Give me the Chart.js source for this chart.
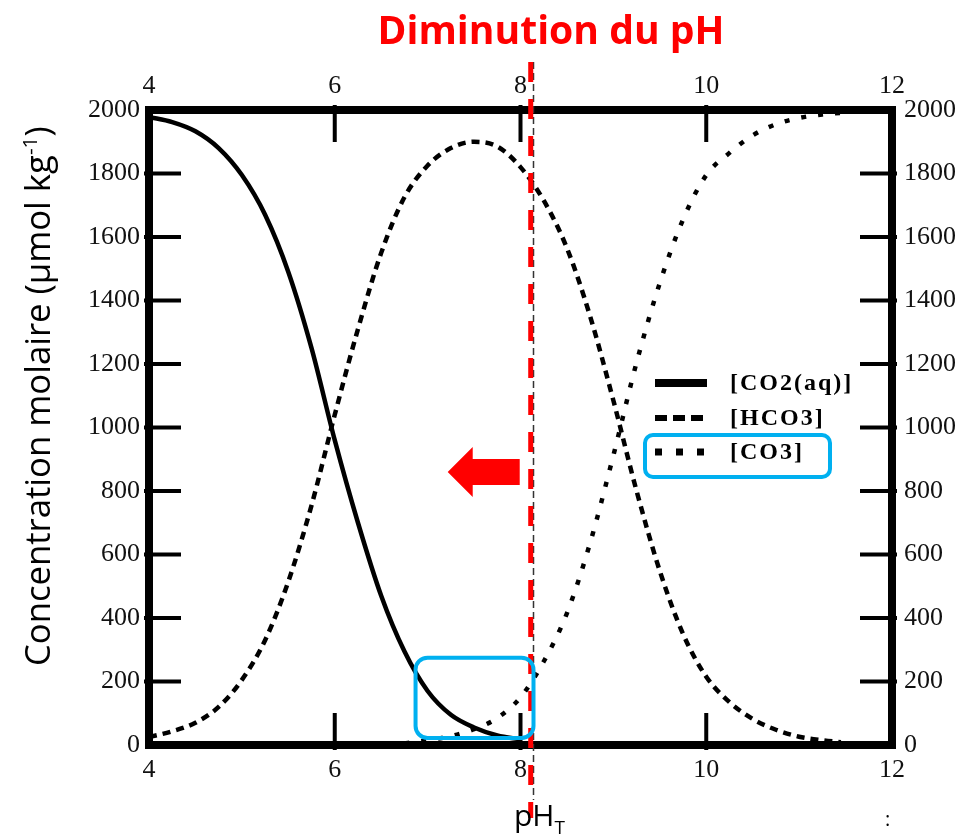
<!DOCTYPE html>
<html>
<head>
<meta charset="utf-8">
<script src="https://cdn.jsdelivr.net/npm/chart.js@4/dist/chart.umd.min.js"></script>
<style>
  html, body { margin: 0; padding: 0; background: #fff; }
  #wrap { width: 967px; height: 835px; }
</style>
</head>
<body>
<div id="wrap"><canvas id="myChart" width="967" height="835"></canvas></div>
<script>
// valeurs (µmol/kg)
const phValues = [4, 4.25, 4.5, 4.75, 5, 5.25, 5.5, 5.75, 6, 6.25, 6.5, 6.75, 7, 7.25, 7.5, 7.75,
  8, 8.25, 8.5, 8.75, 9, 9.25, 9.5, 9.75, 10, 10.25, 10.5, 10.75, 11, 11.25, 11.45];
const co2Values = [1978, 1962, 1933, 1880, 1795, 1670, 1490, 1250, 960, 700, 470, 295, 170, 95, 55, 30,
  18, null, null, null, null, null, null, null, null, null, null, null, null, null, null];
const hco3Values = [25, 43, 70, 120, 205, 330, 515, 755, 1040, 1310, 1550, 1725, 1825, 1880, 1900, 1885,
  1820, 1715, 1565, 1350, 1085, 800, 548, 350, 215, 135, 82, 48, 26, 15, 9];
const co3Values = [null, null, null, null, null, null, null, null, null, null, null, 5, 15, 28, 50, 85,
  150, 263, 415, 637, 912, 1205, 1455, 1655, 1795, 1865, 1920, 1955, 1975, 1986, 1991];
const seriesLabels = ["[CO2(aq)]", "[HCO3]", "[CO3]"];
const xTickValues = [4, 6, 8, 10, 12];
const yTickValues = [0, 200, 400, 600, 800, 1000, 1200, 1400, 1600, 1800, 2000];
const phNow = 8.11;      // ligne rouge
const phNowThin = 8.14;  // ligne noire fine

function toPoints(values) {
  return phValues.map((ph, i) => ({ x: ph, y: values[i] }));
}

const tickFont = { family: "Liberation Serif", size: 26 };

function xAxis(position, height, padding) {
  return {
    type: "linear", position: position, min: 4, max: 12,
    afterBuildTicks: (s) => { s.ticks = xTickValues.map((v) => ({ value: v })); },
    afterFit: (s) => { s.height = height; },
    ticks: { color: "#111", font: tickFont, padding: padding, maxRotation: 0, callback: (v) => String(v) },
    grid: { display: false, drawTicks: false },
    border: { display: false }
  };
}
function yAxis(position, width, padding) {
  return {
    type: "linear", position: position, min: 0, max: 2000,
    afterBuildTicks: (s) => { s.ticks = yTickValues.map((v) => ({ value: v })); },
    afterFit: (s) => { s.width = width; },
    ticks: { color: "#111", font: tickFont, padding: padding, callback: (v) => String(v) },
    grid: { display: false, drawTicks: false },
    border: { display: false }
  };
}

function fitSize(ctx, text, font, width) {
  ctx.font = font.replace("SIZE", "100px");
  return 100 * width / ctx.measureText(text).width;
}

const notesPlugin = {
  id: "notes",
  afterDatasetsDraw(chart) {
    const { ctx, chartArea: a, scales } = chart;
    const xs = scales.x, ys = scales.y;
    ctx.save();

    // graduations vers l'interieur
    ctx.strokeStyle = "#000";
    ctx.lineWidth = 4;
    ctx.beginPath();
    yTickValues.slice(1, -1).forEach((v) => {
      const py = ys.getPixelForValue(v);
      ctx.moveTo(a.left - 5, py); ctx.lineTo(a.left + 32, py);
      ctx.moveTo(a.right - 32, py); ctx.lineTo(a.right + 5, py);
    });
    xTickValues.slice(1, -1).forEach((v) => {
      const px = xs.getPixelForValue(v);
      ctx.moveTo(px, a.top - 5); ctx.lineTo(px, a.top + 32);
      ctx.moveTo(px, a.bottom - 32); ctx.lineTo(px, a.bottom + 5);
    });
    ctx.stroke();

    // cadre
    ctx.lineWidth = 8;
    ctx.strokeRect(a.left, a.top, a.right - a.left, a.bottom - a.top);

    // lignes verticales pH actuel
    const bx = xs.getPixelForValue(phNowThin);
    ctx.strokeStyle = "#333";
    ctx.lineWidth = 1.5;
    ctx.setLineDash([7, 4]);
    ctx.beginPath(); ctx.moveTo(bx, 62); ctx.lineTo(bx, 800); ctx.stroke();
    const rx = xs.getPixelForValue(phNow);
    ctx.strokeStyle = "#ff0000";
    ctx.lineWidth = 5;
    ctx.setLineDash([20, 17]);
    ctx.beginPath(); ctx.moveTo(rx, 62); ctx.lineTo(rx, 818); ctx.stroke();
    ctx.setLineDash([]);

    // fleche rouge
    const ay = ys.getPixelForValue(860);
    ctx.fillStyle = "#ff0000";
    ctx.beginPath();
    ctx.moveTo(rx - 83, ay);
    ctx.lineTo(rx - 58, ay - 25);
    ctx.lineTo(rx - 58, ay - 13);
    ctx.lineTo(rx - 11, ay - 13);
    ctx.lineTo(rx - 11, ay + 13);
    ctx.lineTo(rx - 58, ay + 13);
    ctx.lineTo(rx - 58, ay + 25);
    ctx.closePath();
    ctx.fill();

    // legende
    const legendY = [383, 418, 452];
    const legendStyle = [
      { w: 8, dash: [] },
      { w: 6, dash: [12, 6] },
      { w: 7, dash: [7, 14] }
    ];
    ctx.fillStyle = "#000";
    ctx.font = 'bold 24px "Liberation Serif"';
    ctx.letterSpacing = "2px";
    ctx.textBaseline = "middle";
    ctx.textAlign = "left";
    chart.data.datasets.forEach((ds, i) => {
      ctx.strokeStyle = ds.borderColor;
      ctx.lineWidth = legendStyle[i].w;
      ctx.setLineDash(legendStyle[i].dash);
      ctx.beginPath();
      ctx.moveTo(655, legendY[i]); ctx.lineTo(707, legendY[i]);
      ctx.stroke();
      ctx.fillText(ds.label, 730, legendY[i] + 1);
    });
    ctx.setLineDash([]);
    ctx.letterSpacing = "0px";

    // cadres bleus
    ctx.strokeStyle = "#00b0f0";
    ctx.lineWidth = 4;
    ctx.beginPath();
    ctx.roundRect(645, 435, 185, 42, 8);
    ctx.stroke();
    const bl = xs.getPixelForValue(6.87), br = xs.getPixelForValue(8.14);
    const bt = ys.getPixelForValue(275), bb = ys.getPixelForValue(22);
    ctx.beginPath();
    ctx.roundRect(bl, bt, br - bl, bb - bt, 12);
    ctx.stroke();

    // titre
    const title = "Diminution du pH";
    const tSize = fitSize(ctx, title, 'bold SIZE "Open Sans"', 347);
    ctx.font = `bold ${tSize}px "Open Sans"`;
    ctx.fillStyle = "#ff0000";
    ctx.textAlign = "center";
    ctx.textBaseline = "alphabetic";
    ctx.fillText(title, 551, 44);

    // titre axe y
    const main = "Concentration molaire (\u00b5mol kg";
    ctx.font = '100px "Open Sans"';
    const w100 = ctx.measureText(main).width + ctx.measureText(")").width + 0.6 * ctx.measureText("-1").width;
    const ys2 = 100 * 540 / w100;
    ctx.save();
    ctx.translate(50, 396);
    ctx.rotate(-Math.PI / 2);
    ctx.fillStyle = "#000";
    ctx.textAlign = "left";
    let cx = -270;
    ctx.font = `${ys2}px "Open Sans"`;
    ctx.fillText(main, cx, 0);
    cx += ctx.measureText(main).width;
    ctx.font = `${ys2 * 0.6}px "Open Sans"`;
    ctx.fillText("-1", cx, -ys2 * 0.38);
    cx += ctx.measureText("-1").width;
    ctx.font = `${ys2}px "Open Sans"`;
    ctx.fillText(")", cx, 0);
    ctx.restore();

    // titre axe x : pH_T
    ctx.fillStyle = "#000";
    ctx.textAlign = "left";
    ctx.font = '30px "Open Sans"';
    const pw = ctx.measureText("pH").width;
    ctx.fillText("pH", 514, 826);
    ctx.font = '19px "Open Sans"';
    ctx.fillText("T", 514 + pw, 834);
    ctx.font = '20px "Open Sans"';
    ctx.fillText(":", 885, 826);

    ctx.restore();
  }
};

const ctx = document.getElementById("myChart").getContext("2d");
const chart = new Chart(ctx, {
  type: "line",
  data: {
    datasets: [
      { label: seriesLabels[0], data: toPoints(co2Values), borderColor: "#000", borderWidth: 4.5 },
      { label: seriesLabels[1], data: toPoints(hco3Values), borderColor: "#000", borderWidth: 4.5, borderDash: [8, 6] },
      { label: seriesLabels[2], data: toPoints(co3Values), borderColor: "#000", borderWidth: 4.5, borderDash: [5, 12] }
    ]
  },
  options: {
    responsive: false,
    animation: false,
    layout: { padding: 0 },
    elements: { point: { radius: 0 }, line: { cubicInterpolationMode: "monotone", fill: false } },
    plugins: { legend: { display: false }, tooltip: { enabled: false }, title: { display: false } },
    scales: {
      x: xAxis("bottom", 90, 10),
      x2: xAxis("top", 110, 8),
      y: yAxis("left", 149, 9),
      y2: yAxis("right", 75, 12)
    }
  },
  plugins: [notesPlugin]
});
</script>
</body>
</html>
